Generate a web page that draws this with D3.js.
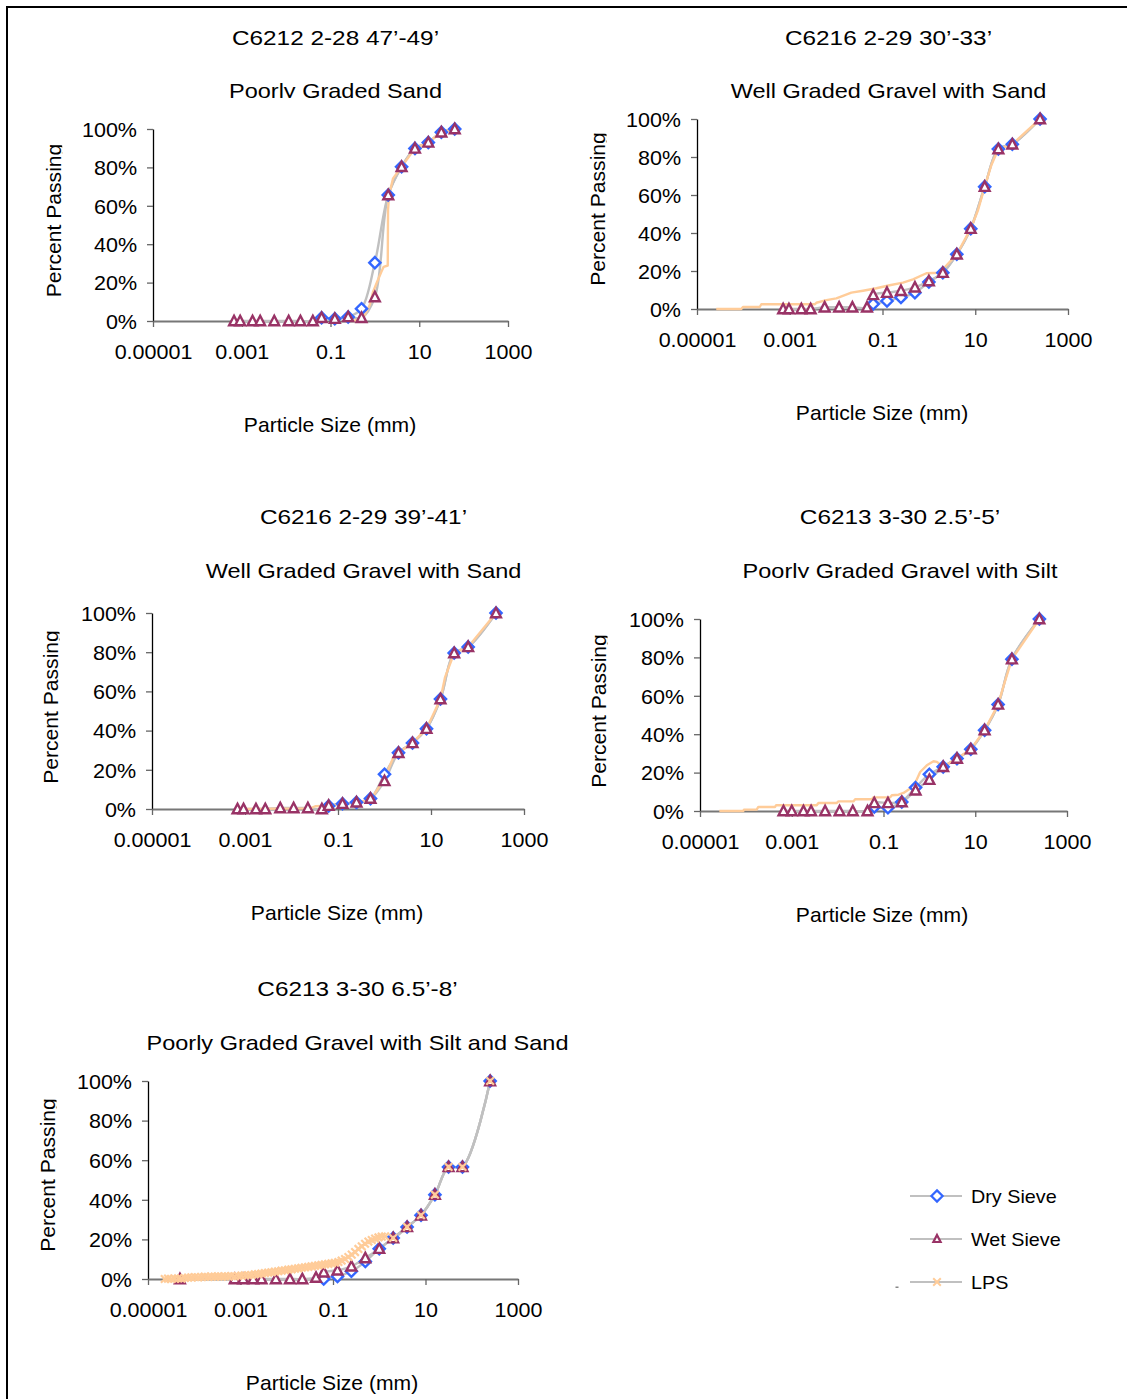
<!DOCTYPE html>
<html>
<head>
<meta charset="utf-8">
<script src="https://cdn.jsdelivr.net/npm/d3@7"></script>
<style>
html, body { margin: 0; padding: 0; background: #fff; }
svg { display: block; }
text { font-family: "Liberation Sans", Arial, sans-serif; fill: #000; }
</style>
</head>
<body>
<svg id="chart" width="1127" height="1399"></svg>
<script>
// ---------- data ----------
const xTickValues = [1e-5, 1e-3, 1e-1, 10, 1000];
const xTickLabels = ["0.00001", "0.001", "0.1", "10", "1000"];
const yTickValues = [0, 20, 40, 60, 80, 100];
const yTickLabels = ["0%", "20%", "40%", "60%", "80%", "100%"];

const titles = ["C6212 2-28 47\u2019-49\u2019", "C6216 2-29 30\u2019-33\u2019", "C6216 2-29 39\u2019-41\u2019",
                "C6213 3-30 2.5\u2019-5\u2019", "C6213 3-30 6.5\u2019-8\u2019"];
const subtitles = ["Poorly Graded Sand", "Well Graded Gravel with Sand", "Well Graded Gravel with Sand",
                   "Poorly Graded Gravel with Silt", "Poorly Graded Gravel with Silt and Sand"];
const seriesNames = ["Dry Sieve", "Wet Sieve", "LPS"];

// sieve openings (mm)
const sieveSizes = [0.063, 0.125, 0.25, 0.5, 1, 2, 4, 8, 16, 31.5, 63, 250];

// C6212 2-28 47'-49'
const p1HydroSize = [0.00067, 0.00092, 0.00175, 0.0026, 0.0054, 0.0114, 0.021, 0.040];
const p1HydroWet = [0, 0, 0, 0, 0, 0, 0, 0];
const p1Dry = [1.7, 1.2, 2.1, 6.4, 30.4, 65.6, 80.3, 89.9, 93.0, 98.3, 100];
const p1Wet = [1.7, 1.2, 2.1, 1.7, 12.5, 65.6, 80.3, 89.9, 93.0, 98.3, 100];
const p1LpsSize = [0.32, 0.453, 0.587, 0.762, 0.908, 1.12, 1.40, 1.58, 1.95, 1.98, 2.09, 2.57, 4, 8, 16, 31.5, 63];
const p1LpsPct = [0, 0.7, 3.0, 8.2, 15.1, 20.3, 25.6, 28.2, 28.9, 57.7, 65.6, 74.3, 80.3, 89.9, 93.0, 98.3, 100];

// C6216 2-29 30'-33'
const p2HydroSize = [0.00072, 0.00096, 0.00178, 0.00282, 0.00566, 0.0116, 0.0224, 0.0463];
const p2HydroWet = [0, 0, 0, 0, 0.9, 0.9, 0.9, 0.9];
const p2Dry = [2.6, 4.2, 6.1, 8.6, 14.2, 19.1, 28.8, 42.3, 64.4, 84.2, 86.7, 100];
const p2Wet = [7.4, 8.6, 9.6, 11.4, 14.7, 19.1, 28.8, 42.3, 64.4, 84.2, 86.7, 100];
const p2LpsSize = [2.6e-5, 9.0e-5, 9.8e-5, 2.25e-4, 2.44e-4, 0.0035, 0.00375, 0.00615, 0.0101, 0.0213, 0.038, 0.0738,
                   0.143, 0.277, 0.455, 0.883, 1.71, 4, 8, 11.5, 16, 22.3, 31.5, 63, 250];
const p2LpsPct = [0, 0, 1.05, 1.05, 2.5, 2.5, 3.3, 4.7, 5.6, 8.6, 9.6, 10.9,
                  12.5, 13.9, 15.6, 18.8, 19.1, 28.8, 42.3, 52.1, 64.4, 75.8, 84.2, 86.7, 100];

// C6216 2-29 39'-41'
const p3HydroSize = [0.00069, 0.00093, 0.00172, 0.00273, 0.00573, 0.0111, 0.0225, 0.045];
const p3HydroWet = [0, 0, 0, 0, 0.5, 0.5, 0.5, 0];
const p3Dry = [1.5, 2.7, 3.4, 5.3, 17.7, 28.7, 33.7, 41.0, 56.1, 79.6, 82.7, 100];
const p3Wet = [1.7, 2.7, 3.4, 5.3, 14.3, 28.7, 33.7, 41.0, 56.1, 79.6, 82.7, 100];
const p3LpsSize = [0.00067, 0.0253, 0.0324, 0.063, 0.125, 0.25, 0.5, 0.684, 1, 1.56, 2, 4, 8, 16, 20.1, 31.5, 63, 250];
const p3LpsPct = [0, 0.3, 1.4, 1.7, 2.7, 3.4, 4.8, 9.5, 15.5, 26.5, 28.7, 33.7, 41.0, 56.1, 67.3, 79.6, 82.7, 100];

// C6213 3-30 2.5'-5'
const p4HydroSize = [0.00066, 0.001, 0.0018, 0.00264, 0.00533, 0.011, 0.0214, 0.0448];
const p4HydroWet = [0, 0, 0, 0, 0, 0, 0, 0];
const p4Dry = [2.1, 1.7, 4.7, 12.2, 19.1, 23.0, 27.3, 32.2, 42.1, 55.5, 79.1, 100];
const p4Wet = [4.2, 4.2, 4.7, 10.8, 16.3, 23.0, 27.3, 32.2, 42.1, 55.5, 79.1, 100];
const p4LpsSize = [2.64e-5, 8.8e-5, 9.1e-5, 1.72e-4, 1.87e-4, 4.33e-4, 4.55e-4, 0.0035, 0.00382, 0.0096, 0.0104,
                   0.0221, 0.0241, 0.0556, 0.0605, 0.14, 0.152, 0.212, 0.273, 0.382, 0.491, 0.63, 0.88, 1.23, 1.46,
                   2, 4, 8, 16, 31.5, 43, 63, 250];
const p4LpsPct = [0, 0, 0.7, 0.7, 2.1, 2.1, 3.0, 3.0, 4.2, 4.2, 5.0,
                  5.0, 6.1, 6.1, 7.1, 7.1, 8.2, 8.5, 9.4, 11.7, 14.6, 20.3, 23.8, 25.9, 25.6,
                  23.0, 27.3, 32.2, 42.1, 55.5, 66.4, 79.1, 100];

// C6213 3-30 6.5'-8'
const p5HydroSize = [4.9e-5, 0.00075, 0.00114, 0.00188, 0.00285, 0.00582, 0.0117, 0.0217, 0.0429];
const p5HydroWet = [0, 0, 0, 0, 0, 0, 0, 0, 0.7];
const p5Dry = [0, 1.3, 3.9, 8.8, 15.3, 20.7, 26.3, 32.2, 42.6, 56.6, 56.6, 100];
const p5Wet = [3.4, 4.4, 6.4, 10.6, 15.3, 20.7, 26.3, 32.2, 42.6, 56.6, 56.6, 100];
const p5LpsSize = [
  2.30e-5, 2.71e-5, 3.20e-5, 3.78e-5, 4.47e-5, 5.27e-5, 6.22e-5, 7.35e-5, 8.68e-5, 1.03e-4,
  1.21e-4, 1.43e-4, 1.69e-4, 2.00e-4, 2.35e-4, 2.78e-4, 3.28e-4, 3.88e-4, 4.58e-4, 5.41e-4,
  6.38e-4, 7.54e-4, 8.90e-4, 1.05e-3, 1.24e-3, 1.47e-3, 1.73e-3, 2.04e-3, 2.41e-3, 2.85e-3,
  3.37e-3, 3.97e-3, 4.69e-3, 5.54e-3, 6.54e-3, 7.73e-3, 9.12e-3, 0.0108, 0.0127, 0.0150,
  0.0177, 0.0209, 0.0248, 0.0292, 0.0345, 0.0407, 0.0481, 0.0569, 0.0671, 0.0793,
  0.0936, 0.110, 0.131, 0.154, 0.182, 0.215, 0.254, 0.300, 0.354, 0.418,
  0.493, 0.582, 0.689, 0.813, 0.960, 1.13, 1.34, 2, 4, 8, 16, 31.5, 63, 250];
const p5LpsPct = [
  0.0, 0.2, 0.0, 0.2, 0.3, 0.2, 0.5, 0.7, 0.8, 1.0,
  0.8, 1.0, 1.2, 1.0, 1.2, 1.2, 1.3, 1.2, 1.3, 1.3,
  1.5, 1.3, 1.5, 1.7, 1.9, 1.9, 2.0, 2.4, 2.5, 2.7,
  3.0, 3.2, 3.4, 3.7, 3.9, 4.2, 4.4, 4.7, 4.9, 5.2,
  5.4, 5.7, 5.9, 6.1, 6.4, 6.6, 6.9, 7.1, 7.4, 7.6,
  7.9, 8.2, 8.6, 9.3, 10.1, 11.1, 12.3, 13.6, 15.2, 16.5,
  17.8, 18.9, 19.7, 20.4, 21.0, 21.4, 21.5, 20.7, 26.3, 32.2, 42.6, 56.6, 56.6, 100];

// ---------- styling / layout ----------
const GRAY = "#c0c0c0", ORANGE = "#ffcc99", BLUE = "#3366ff", PLUM = "#993366";
const diamondPath = "M0,-5.6L5.6,0L0,5.6L-5.6,0Z";
const trianglePath = "M0,-5.2L4.9,4.2L-4.9,4.2Z";
const crossPath = "M-3.8,-3.8L3.8,3.8M-3.8,3.8L3.8,-3.8";

const panels = [
  { x0: 153, x1: 508, yTop: 129, yBot: 321, tx: 335.5, t1: 44.5, t2: 97.5, clipSub: true,
    xlabX: 330, xlabY: 431.5, ylabX: 60.7, ylabY: 220.5,
    hs: p1HydroSize, hw: p1HydroWet, dry: p1Dry, wet: p1Wet, ls: p1LpsSize, lp: p1LpsPct, lpsMarkers: false },
  { x0: 697, x1: 1068, yTop: 119, yBot: 309, tx: 888.5, t1: 44.5, t2: 97.5, clipSub: false,
    xlabX: 882, xlabY: 419.5, ylabX: 605, ylabY: 209,
    hs: p2HydroSize, hw: p2HydroWet, dry: p2Dry, wet: p2Wet, ls: p2LpsSize, lp: p2LpsPct, lpsMarkers: false },
  { x0: 152, x1: 524, yTop: 613, yBot: 809, tx: 363.5, t1: 523.5, t2: 577.5, clipSub: false,
    xlabX: 337, xlabY: 919.5, ylabX: 58, ylabY: 707,
    hs: p3HydroSize, hw: p3HydroWet, dry: p3Dry, wet: p3Wet, ls: p3LpsSize, lp: p3LpsPct, lpsMarkers: false },
  { x0: 700, x1: 1067, yTop: 619, yBot: 811, tx: 900, t1: 523.5, t2: 577.5, clipSub: true,
    xlabX: 882, xlabY: 921.5, ylabX: 606, ylabY: 711,
    hs: p4HydroSize, hw: p4HydroWet, dry: p4Dry, wet: p4Wet, ls: p4LpsSize, lp: p4LpsPct, lpsMarkers: false },
  { x0: 148, x1: 518, yTop: 1081, yBot: 1279, tx: 357.5, t1: 995.5, t2: 1049.5, clipSub: false,
    xlabX: 332, xlabY: 1389.5, ylabX: 55, ylabY: 1175,
    hs: p5HydroSize, hw: p5HydroWet, dry: p5Dry, wet: p5Wet, ls: p5LpsSize, lp: p5LpsPct, lpsMarkers: true }
];

const svg = d3.select("#chart");
const defs = svg.append("defs");

// outer frame
svg.append("rect").attr("x", 7).attr("y", 7).attr("width", 1200).attr("height", 1500)
  .attr("fill", "none").attr("stroke", "#000").attr("stroke-width", 2);

function scaledText(parent, x, y, str, size, sx, anchor, rotate) {
  const g = parent.append("g")
    .attr("transform", `translate(${x},${y})` + (rotate ? ` rotate(${rotate})` : "") + ` scale(${sx},1)`);
  g.append("text").attr("text-anchor", anchor || "middle").style("font-size", size + "px").text(str);
  return g;
}

panels.forEach((p, idx) => {
  const g = svg.append("g").attr("class", "panel");
  const x = d3.scaleLog().domain([1e-5, 1e3]).range([p.x0, p.x1]);
  const y = d3.scaleLinear().domain([0, 100]).range([p.yBot, p.yTop]);

  // titles
  scaledText(g, p.tx, p.t1, titles[idx], 21, 1.16);
  let subParent = g;
  if (p.clipSub) {
    const id = "subclip" + idx;
    defs.append("clipPath").attr("id", id).append("rect")
      .attr("x", 0).attr("y", 0).attr("width", 1127).attr("height", p.t2 + 0.6);
    subParent = g.append("g").attr("clip-path", `url(#${id})`);
  }
  scaledText(subParent, p.tx, p.t2, subtitles[idx], 21, 1.12);

  // axis titles
  scaledText(g, p.xlabX, p.xlabY, "Particle Size (mm)", 20.5, 1.03);
  const yid = "yclip" + idx;
  defs.append("clipPath").attr("id", yid).append("rect")
    .attr("x", 0).attr("y", 0).attr("width", p.ylabX + 1.5).attr("height", 1399);
  scaledText(g.append("g").attr("clip-path", `url(#${yid})`), p.ylabX, p.ylabY, "Percent Passing", 20.5, 1.03, "middle", -90);

  // y axis
  const gy = g.append("g").attr("transform", `translate(${p.x0},0)`)
    .call(d3.axisLeft(y).tickValues(yTickValues)
      .tickFormat(d => yTickLabels[yTickValues.indexOf(d)]).tickSize(6).tickSizeOuter(0));
  gy.select(".domain").attr("stroke", "#000").attr("stroke-width", 1.3);
  gy.selectAll(".tick line").attr("stroke", "#666").attr("stroke-width", 1.3);
  gy.selectAll(".tick text").attr("x", null).attr("dy", "0.36em")
    .attr("transform", "translate(-16,0) scale(1.05,1)").style("font-size", "20.5px");

  // x axis
  const gx = g.append("g").attr("transform", `translate(0,${p.yBot})`)
    .call(d3.axisBottom(x).tickValues(xTickValues)
      .tickFormat(d => xTickLabels[xTickValues.indexOf(d)]).tickSize(6).tickSizeOuter(0));
  gx.select(".domain").attr("stroke", "#777").attr("stroke-width", 2);
  gx.selectAll(".tick line").attr("stroke", "#666").attr("stroke-width", 1.3);
  gx.selectAll(".tick text").attr("y", null).attr("dy", null)
    .attr("transform", "translate(0,37.5) scale(1.05,1)").style("font-size", "20.5px");

  // series
  const dryPts = p.dry.map((v, i) => [sieveSizes[i], v]);
  const wetPts = p.hs.map((s, i) => [s, p.hw[i]]).concat(p.wet.map((v, i) => [sieveSizes[i], v]));
  const lpsPts = p.ls.map((s, i) => [s, p.lp[i]]);

  const smooth = d3.line().x(d => x(d[0])).y(d => y(d[1])).curve(d3.curveCatmullRom.alpha(0.5));
  const straight = d3.line().x(d => x(d[0])).y(d => y(d[1]));

  g.append("path").attr("d", smooth(dryPts)).attr("fill", "none").attr("stroke", GRAY).attr("stroke-width", 2.4);
  g.append("path").attr("d", smooth(wetPts)).attr("fill", "none").attr("stroke", GRAY).attr("stroke-width", 2.4);
  if (p.lpsMarkers) {
    g.append("path").attr("d", smooth(lpsPts)).attr("fill", "none").attr("stroke", GRAY).attr("stroke-width", 2.4);
  } else {
    g.append("path").attr("d", straight(lpsPts)).attr("fill", "none").attr("stroke", ORANGE)
      .attr("stroke-width", 2.4).attr("stroke-linejoin", "round");
  }

  g.append("g").selectAll("path").data(dryPts).join("path")
    .attr("transform", d => `translate(${x(d[0])},${y(d[1])})`)
    .attr("d", diamondPath).attr("fill", "#fff").attr("stroke", BLUE).attr("stroke-width", 2.4);
  g.append("g").selectAll("path").data(wetPts).join("path")
    .attr("transform", d => `translate(${x(d[0])},${y(d[1])})`)
    .attr("d", trianglePath).attr("fill", "#fff").attr("stroke", PLUM).attr("stroke-width", 2.4);
  if (p.lpsMarkers) {
    g.append("g").selectAll("path").data(lpsPts).join("path")
      .attr("transform", d => `translate(${x(d[0])},${y(d[1])})`)
      .attr("d", crossPath).attr("fill", "none").attr("stroke", ORANGE).attr("stroke-width", 2.2);
  }
});

// legend
const legendY = [1196, 1239, 1282];
const lg = svg.append("g").attr("class", "legend");
seriesNames.forEach((name, i) => {
  const yy = legendY[i];
  lg.append("line").attr("x1", 910).attr("x2", 962).attr("y1", yy).attr("y2", yy)
    .attr("stroke", GRAY).attr("stroke-width", 2.2);
  const m = lg.append("path").attr("transform", `translate(937,${yy})`);
  if (i === 0) m.attr("d", diamondPath).attr("fill", "#fff").attr("stroke", BLUE).attr("stroke-width", 2.2);
  if (i === 1) m.attr("d", "M0,-4L3.6,3L-3.6,3Z").attr("fill", "#fff").attr("stroke", PLUM).attr("stroke-width", 2.2);
  if (i === 2) m.attr("d", crossPath).attr("fill", "none").attr("stroke", ORANGE).attr("stroke-width", 2);
  lg.append("g").attr("transform", `translate(971,${yy}) scale(1.04,1)`)
    .append("text").attr("dy", "0.36em").style("font-size", "19px").text(name);
});
lg.append("rect").attr("x", 895.5).attr("y", 1286.5).attr("width", 3).attr("height", 1.5).attr("fill", "#888");
</script>
</body>
</html>
